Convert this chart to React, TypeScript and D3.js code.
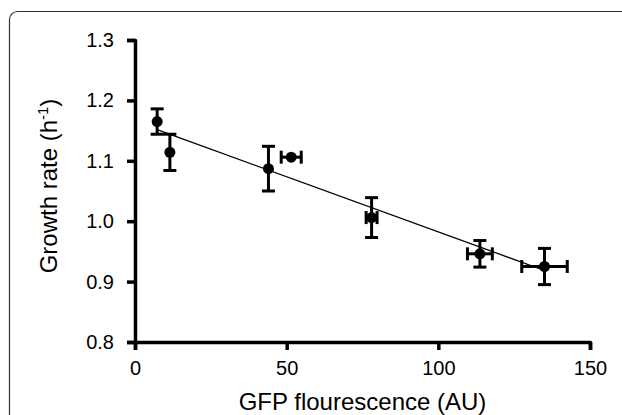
import * as d3 from 'd3';
import React, { useEffect, useRef } from 'react';

// GFP fluorescence (AU) and growth rate (1/h)
const gfp = [7.3, 11.5, 44.0, 51.5, 78.0, 113.7, 135.0];
const gfpErr = [0, 0, 0, 3.3, 1.8, 4.1, 7.5];
const growth = [1.165, 1.114, 1.087, 1.106, 1.006, 0.946, 0.925];
const growthErr = [0.021, 0.03, 0.037, 0, 0.033, 0.022, 0.03];

const xTicks = [0, 50, 100, 150];
const yTicks = [0.8, 0.9, 1.0, 1.1, 1.2, 1.3];

const App: React.FC = () => {
  const ref = useRef<SVGSVGElement | null>(null);

  useEffect(() => {
    if (!ref.current) return;
    const root = d3.select(ref.current);
    root.selectAll('*').remove();

    const W = 622;
    const H = 415;
    const margin = { top: 40, right: 32, bottom: 73, left: 135 };
    const width = W - margin.left - margin.right;
    const height = H - margin.top - margin.bottom;
    const font = '"Liberation Sans", Arial, sans-serif';

    // panel border
    root
      .append('rect')
      .attr('x', 9.5)
      .attr('y', 11.5)
      .attr('width', W + 20)
      .attr('height', H + 20)
      .attr('rx', 8)
      .attr('fill', 'none')
      .attr('stroke', '#333')
      .attr('stroke-width', 1.2);

    const g = root
      .append('g')
      .attr('transform', `translate(${margin.left},${margin.top})`);

    const x = d3.scaleLinear().domain([0, 150]).range([0, width]);
    const y = d3.scaleLinear().domain([0.8, 1.3]).range([height, 0]);

    const data = gfp.map((v, i) => ({
      x: v,
      xe: gfpErr[i],
      y: growth[i],
      ye: growthErr[i],
    }));

    // axes
    const xAxis = g
      .append('g')
      .attr('transform', `translate(0,${height})`)
      .call(
        d3
          .axisBottom(x)
          .tickValues(xTicks)
          .tickSize(8)
          .tickPadding(11)
          .tickFormat(d3.format('d'))
      );
    const yAxis = g.append('g').call(
      d3
        .axisLeft(y)
        .tickValues(yTicks)
        .tickSize(8)
        .tickPadding(13)
        .tickFormat(d3.format('.1f'))
    );
    [xAxis, yAxis].forEach((a) => {
      a.selectAll('path, line')
        .attr('stroke', '#000')
        .attr('stroke-width', 3.5);
      a.select('path').attr('stroke-linejoin', 'round');
      a.selectAll('text')
        .attr('fill', '#000')
        .style('font-family', font)
        .style('font-size', '20px');
    });

    // trend line (least squares)
    const mx = d3.mean(data, (d) => d.x) as number;
    const my = d3.mean(data, (d) => d.y) as number;
    const sxy = d3.sum(data, (d) => (d.x - mx) * (d.y - my));
    const sxx = d3.sum(data, (d) => (d.x - mx) ** 2);
    const slope = sxy / sxx;
    const icpt = my - slope * mx;
    const [x0, x1] = d3.extent(data, (d) => d.x) as [number, number];
    const line = d3
      .line<number>()
      .x((d) => x(d))
      .y((d) => y(icpt + slope * d));
    g.append('path')
      .datum([x0, x1])
      .attr('fill', 'none')
      .attr('stroke', '#000')
      .attr('stroke-width', 1.3)
      .attr('d', line);

    // error bars
    const cap = 6.5;
    const eb = g.append('g').attr('stroke', '#000').attr('stroke-width', 3);
    data
      .filter((d) => d.ye > 0)
      .forEach((d) => {
        const cx = x(d.x);
        const t = y(d.y + d.ye);
        const b = y(d.y - d.ye);
        eb.append('line').attr('x1', cx).attr('x2', cx).attr('y1', t).attr('y2', b);
        eb.append('line').attr('x1', cx - cap).attr('x2', cx + cap).attr('y1', t).attr('y2', t);
        eb.append('line').attr('x1', cx - cap).attr('x2', cx + cap).attr('y1', b).attr('y2', b);
      });
    data
      .filter((d) => d.xe > 0)
      .forEach((d) => {
        const cy = y(d.y);
        const l = x(d.x - d.xe);
        const r = x(d.x + d.xe);
        eb.append('line').attr('x1', l).attr('x2', r).attr('y1', cy).attr('y2', cy);
        eb.append('line').attr('x1', l).attr('x2', l).attr('y1', cy - cap).attr('y2', cy + cap);
        eb.append('line').attr('x1', r).attr('x2', r).attr('y1', cy - cap).attr('y2', cy + cap);
      });

    // points
    g.selectAll('circle.pt')
      .data(data)
      .enter()
      .append('circle')
      .attr('class', 'pt')
      .attr('cx', (d) => x(d.x))
      .attr('cy', (d) => y(d.y))
      .attr('r', 5.5)
      .attr('fill', '#000');

    // axis titles
    g.append('text')
      .attr('x', width / 2)
      .attr('y', height + 68)
      .attr('text-anchor', 'middle')
      .style('font-family', font)
      .style('font-size', '24px')
      .text('GFP flourescence (AU)');

    const yt = g
      .append('text')
      .attr('transform', `translate(${57 - margin.left},${height / 2 - 5}) rotate(-90)`)
      .attr('text-anchor', 'middle')
      .style('font-family', font)
      .style('font-size', '24px');
    yt.append('tspan').text('Growth rate (h');
    yt.append('tspan')
      .attr('dy', -9)
      .style('font-size', '15px')
      .text('-1');
    yt.append('tspan').attr('dy', 9).text(')');
  }, []);

  return (
    <svg
      ref={ref}
      width={622}
      height={415}
      style={{ position: 'absolute', left: 0, top: 0, background: '#fff' }}
    />
  );
};

export default App;
